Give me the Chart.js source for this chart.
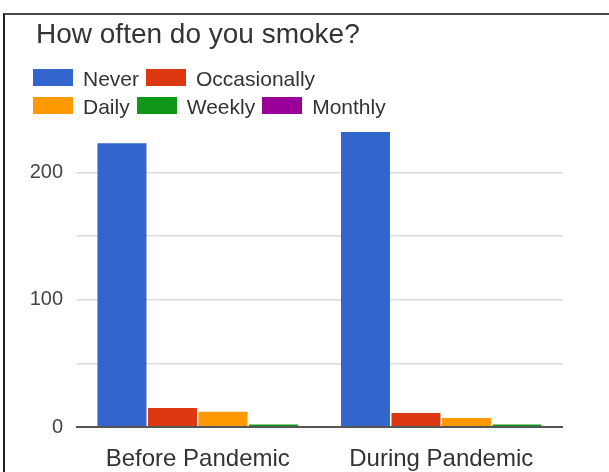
<!DOCTYPE html>
<html>
<head>
<meta charset="utf-8">
<script src="https://cdn.jsdelivr.net/npm/chart.js@4.4.1/dist/chart.umd.min.js"></script>
<style>
  html, body { margin: 0; padding: 0; background: #fff; }
  #page { position: relative; width: 609px; height: 472px; overflow: hidden;
          font-family: "Liberation Sans", Arial, sans-serif; }
  canvas { position: absolute; left: 0; top: 0; }
  #frame { position: absolute; left: 3px; top: 13px; right: -4px; bottom: -4px;
           border-left: 2px solid #222; border-top: 2px solid #4a4a4a; pointer-events: none; }
  #title { position: absolute; left: 36px; top: 18px; font-size: 28px; line-height: 32px;
           color: #333; white-space: nowrap; }
  #legend { position: absolute; left: 33px; top: 69px; width: 365px; display: flex;
            flex-wrap: wrap; column-gap: 7px; row-gap: 11px; }
  .item { display: flex; align-items: center; height: 17px; }
  .swatch { width: 40px; height: 17px; margin-right: 10px; }
  .label { font-size: 21px; line-height: 20px; color: #333; position: relative; top: 1px;
           white-space: nowrap; }
</style>
</head>
<body>
<div id="page">
  <canvas id="chart" width="609" height="472"></canvas>
  <div id="frame"></div>
  <div id="title">How often do you smoke?</div>
  <div id="legend"></div>
</div>
<script>
// Survey answers, grouped by period
const categories = ['Before Pandemic', 'During Pandemic'];
const never = [223, 232];
const occasionally = [15, 11];
const daily = [12, 7];
const weekly = [2, 2];
const monthly = [null, null]; // nobody picked "Monthly" in either period

const seriesNames = ['Never', 'Occasionally', 'Daily', 'Weekly', 'Monthly'];
const seriesValues = [never, occasionally, daily, weekly, monthly];
const seriesColors = ['#3366cc', '#dc3912', '#ff9900', '#109618', '#990099'];

const gridValues = [0, 50, 100, 150, 200];
const tickLabels = [0, 100, 200];

const FONT = '"Liberation Sans", Arial, sans-serif';

const chart = new Chart(document.getElementById('chart'), {
  type: 'bar',
  data: {
    labels: categories,
    datasets: seriesNames.map((name, i) => ({
      label: name,
      data: seriesValues[i],
      backgroundColor: seriesColors[i],
      borderWidth: 0,
      skipNull: true
    }))
  },
  options: {
    responsive: false,
    animation: false,
    devicePixelRatio: 1,
    skipNull: true,
    layout: { padding: { top: 109, right: 46, left: 0, bottom: 0 } },
    datasets: { bar: { categoryPercentage: 0.83, barPercentage: 0.97 } },
    plugins: {
      legend: { display: false },
      title: { display: false },
      tooltip: { enabled: false }
    },
    scales: {
      x: {
        grid: { display: false },
        border: { display: false },
        ticks: { font: { size: 24, family: FONT }, color: '#333', padding: 10 },
        afterFit(scale) { scale.height = 45; }
      },
      y: {
        min: 0,
        max: 250,
        afterBuildTicks(scale) { scale.ticks = gridValues.map(v => ({ value: v })); },
        grid: {
          drawTicks: false,
          color: c => (c.tick && c.tick.value === 0 ? '#555' : '#dcdcdc'),
          lineWidth: c => (c.tick && c.tick.value === 0 ? 2 : 1.5)
        },
        border: { display: false },
        ticks: {
          font: { size: 20, family: FONT },
          color: '#444',
          padding: 13,
          callback: v => (tickLabels.includes(v) ? String(v) : '')
        },
        afterFit(scale) { scale.width = 76; }
      }
    }
  }
});

// Legend laid out as wrapped rows, built from the chart's own datasets
const legendEl = document.getElementById('legend');
chart.data.datasets.forEach(ds => {
  const item = document.createElement('div');
  item.className = 'item';
  const sw = document.createElement('span');
  sw.className = 'swatch';
  sw.style.background = ds.backgroundColor;
  const lb = document.createElement('span');
  lb.className = 'label';
  lb.textContent = ds.label;
  item.appendChild(sw);
  item.appendChild(lb);
  legendEl.appendChild(item);
});
</script>
</body>
</html>
